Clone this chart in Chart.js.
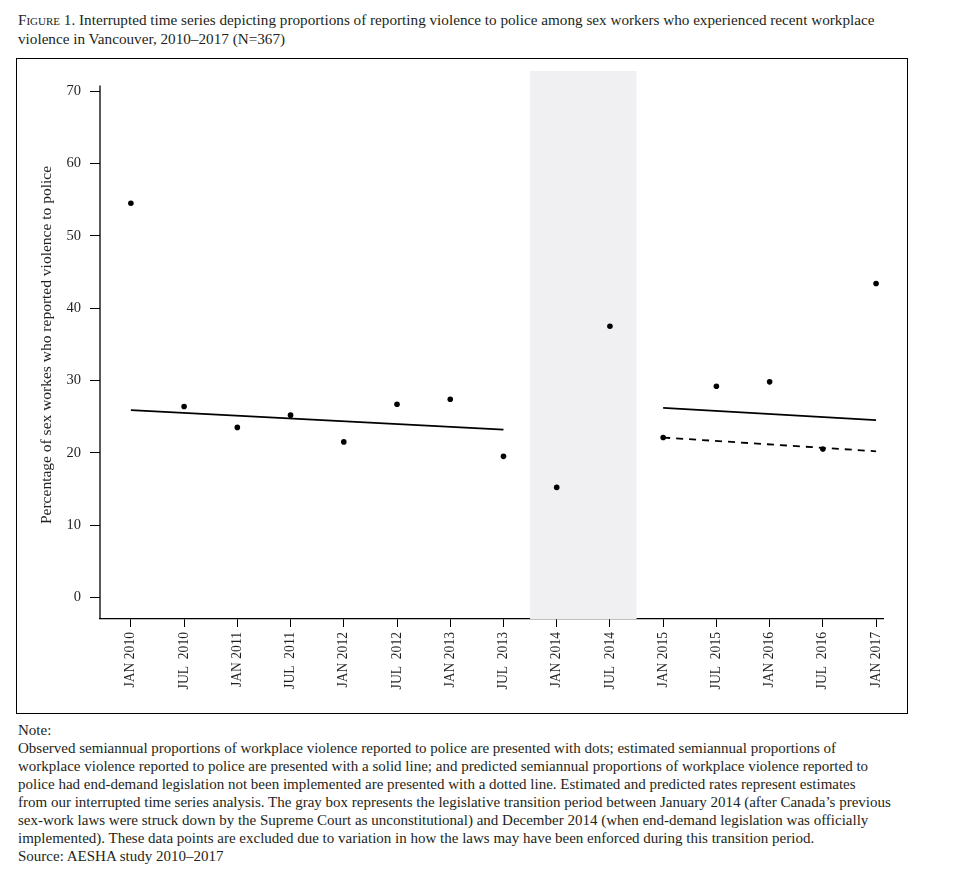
<!DOCTYPE html>
<html>
<head>
<meta charset="utf-8">
<script src="https://cdn.jsdelivr.net/npm/chart.js@4.4.1/dist/chart.umd.min.js"></script>
<style>
  html, body { margin: 0; padding: 0; background: #fff; }
  body { width: 966px; height: 878px; position: relative; overflow: hidden;
         font-family: "Liberation Serif", "DejaVu Serif", serif; color: #231f20; }
  .fig-title { position: absolute; left: 18px; top: 10px; font-size: 15.2px; line-height: 19px; white-space: nowrap; }
  .sc { font-variant: small-caps; }
  .frame { position: absolute; left: 16px; top: 58px; width: 890px; height: 654px; border: 1px solid #000; }
  .frame canvas { display: block; }
  .note { position: absolute; left: 18px; top: 721px; font-size: 15px; line-height: 18px; white-space: nowrap; }
</style>
</head>
<body>
<div class="fig-title"><span class="sc">Figure</span> 1. Interrupted time series depicting proportions of reporting violence to police among sex workers who experienced recent workplace<br>violence in Vancouver, 2010–2017 (N=367)</div>
<div class="frame"><canvas id="itsChart" width="890" height="654"></canvas></div>
<div class="note">
Note:<br>
Observed semiannual proportions of workplace violence reported to police are presented with dots; estimated semiannual proportions of<br>
workplace violence reported to police are presented with a solid line; and predicted semiannual proportions of workplace violence reported to<br>
police had end-demand legislation not been implemented are presented with a dotted line. Estimated and predicted rates represent estimates<br>
from our interrupted time series analysis. The gray box represents the legislative transition period between January 2014 (after Canada’s previous<br>
sex-work laws were struck down by the Supreme Court as unconstitutional) and December 2014 (when end-demand legislation was officially<br>
implemented). These data points are excluded due to variation in how the laws may have been enforced during this transition period.<br>
Source: AESHA study 2010–2017
</div>

<script>
// ========================================
// Data
// ========================================
const periods = [
  'JAN 2010', 'JUL  2010', 'JAN 2011', 'JUL  2011', 'JAN 2012', 'JUL  2012', 'JAN 2013', 'JUL  2013',
  'JAN 2014', 'JUL  2014', 'JAN 2015', 'JUL  2015', 'JAN 2016', 'JUL  2016', 'JAN 2017'
];

// observed semiannual proportions (%)
const observed = [54.5, 26.4, 23.5, 25.2, 21.5, 26.7, 27.4, 19.5, 15.2, 37.5, 22.1, 29.2, 29.8, 20.5, 43.4];

// estimated trend before the transition (period index, %)
const preTrendX = [0, 7];
const preTrendY = [25.9, 23.2];

// estimated trend after end-demand legislation
const postTrendX = [10, 14];
const postTrendY = [26.2, 24.5];

// predicted trend had legislation not been implemented
const counterfactualX = [10, 14];
const counterfactualY = [22.1, 20.2];

// transition period (gray box), in period index units
const transitionStart = 7.5;
const transitionEnd = 9.5;

const yTicks = [0, 10, 20, 30, 40, 50, 60, 70];
const yAxisTop = 70.8;

const INK = '#231f20';
const SERIF = '"Liberation Serif", "DejaVu Serif", serif';

function toPoints(xs, ys) {
  return xs.map((x, i) => ({ x: x, y: ys[i] }));
}

// ========================================
// Plugins: gray transition box + y axis line
// ========================================
const transitionBox = {
  id: 'transitionBox',
  beforeDatasetsDraw(chart) {
    const { ctx, chartArea, scales } = chart;
    const x0 = scales.x.getPixelForValue(transitionStart);
    const x1 = scales.x.getPixelForValue(transitionEnd);
    ctx.save();
    ctx.fillStyle = '#f0f0f3';
    ctx.fillRect(x0, chartArea.top, x1 - x0, chartArea.bottom - chartArea.top);
    ctx.restore();
  }
};

const yAxisLine = {
  id: 'yAxisLine',
  afterDraw(chart) {
    const { ctx, chartArea, scales } = chart;
    ctx.save();
    ctx.strokeStyle = '#000';
    ctx.lineWidth = 1.3;
    ctx.beginPath();
    ctx.moveTo(chartArea.left, scales.y.getPixelForValue(yAxisTop));
    ctx.lineTo(chartArea.left, chartArea.bottom);
    ctx.stroke();
    ctx.restore();
  }
};

// ========================================
// Chart
// ========================================
function initializeChart() {
  const ctx = document.getElementById('itsChart');

  new Chart(ctx, {
    type: 'scatter',
    data: {
      datasets: [
        {
          label: 'Observed',
          data: observed.map((v, i) => ({ x: i, y: v })),
          backgroundColor: '#000',
          borderColor: '#000',
          pointRadius: 2.8,
          pointBorderWidth: 0,
          showLine: false
        },
        {
          label: 'Estimated (pre)',
          data: toPoints(preTrendX, preTrendY),
          showLine: true,
          borderColor: '#000',
          borderWidth: 1.8,
          pointRadius: 0
        },
        {
          label: 'Estimated (post)',
          data: toPoints(postTrendX, postTrendY),
          showLine: true,
          borderColor: '#000',
          borderWidth: 1.8,
          pointRadius: 0
        },
        {
          label: 'Predicted',
          data: toPoints(counterfactualX, counterfactualY),
          showLine: true,
          borderColor: '#000',
          borderWidth: 1.8,
          borderDash: [7, 6],
          pointRadius: 0
        }
      ]
    },
    options: {
      responsive: false,
      animation: false,
      layout: {
        padding: { top: 12, right: 24, left: 0, bottom: 0 }
      },
      plugins: {
        legend: { display: false },
        tooltip: { enabled: false }
      },
      scales: {
        x: {
          type: 'linear',
          min: -0.58,
          max: 14.13,
          afterBuildTicks: (scale) => {
            scale.ticks = periods.map((_, i) => ({ value: i }));
          },
          afterFit: (scale) => {
            scale.height = 94;
            scale.paddingLeft = 0;
            scale.paddingRight = 0;
          },
          border: { display: true, color: '#000', width: 1.3 },
          grid: {
            drawOnChartArea: false,
            drawTicks: true,
            tickLength: 8,
            color: '#000',
            lineWidth: 1
          },
          ticks: {
            autoSkip: false,
            minRotation: 90,
            maxRotation: 90,
            padding: 5,
            color: INK,
            font: { family: SERIF, size: 13.6 },
            callback: (value) => periods[value]
          }
        },
        y: {
          min: -3,
          max: 72.8,
          afterBuildTicks: (scale) => {
            scale.ticks = yTicks.map(v => ({ value: v }));
          },
          afterFit: (scale) => {
            scale.width = 83;
            scale.paddingTop = 0;
            scale.paddingBottom = 0;
          },
          border: { display: false },
          grid: {
            drawOnChartArea: false,
            drawTicks: true,
            tickLength: 10,
            color: '#000',
            lineWidth: 1
          },
          ticks: {
            padding: 9,
            color: INK,
            font: { family: SERIF, size: 14.5 }
          },
          title: {
            display: true,
            text: 'Percentage of sex workes who reported violence to police',
            color: INK,
            font: { family: SERIF, size: 15.5 },
            padding: { top: 21, bottom: 0 }
          }
        }
      }
    },
    plugins: [transitionBox, yAxisLine]
  });
}

document.addEventListener('DOMContentLoaded', function() {
  initializeChart();
});
</script>
</body>
</html>
